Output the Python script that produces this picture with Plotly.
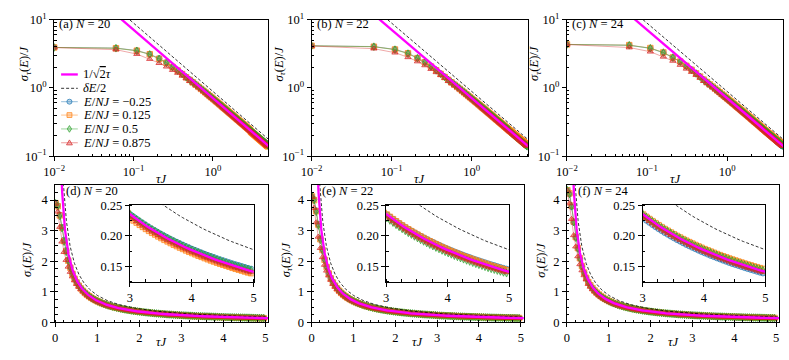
import numpy as np
import plotly.graph_objects as go

W, H = 789, 360
SERIF = "Liberation Serif"

# --- data ---
tau = [0.01, 0.06, 0.11, 0.16, 0.21, 0.26, 0.31, 0.36, 0.41, 0.46,
       0.51, 0.56, 0.61, 0.66, 0.71, 0.76, 0.81, 0.86, 0.91, 0.96,
       1.01, 1.06, 1.11, 1.16, 1.21, 1.26, 1.31, 1.36, 1.41, 1.46,
       1.51, 1.56, 1.61, 1.66, 1.71, 1.76, 1.81, 1.86, 1.91, 1.96,
       2.01, 2.06, 2.11, 2.16, 2.21, 2.26, 2.31, 2.36, 2.41, 2.46,
       2.51, 2.56, 2.61, 2.66, 2.71, 2.76, 2.81, 2.86, 2.91, 2.96,
       3.01, 3.06, 3.11, 3.16, 3.21, 3.26, 3.31, 3.36, 3.41, 3.46,
       3.51, 3.56, 3.61, 3.66, 3.71, 3.76, 3.81, 3.86, 3.91, 3.96,
       4.01, 4.06, 4.11, 4.16, 4.21, 4.26, 4.31, 4.36, 4.41, 4.46,
       4.51, 4.56, 4.61, 4.66, 4.71, 4.76, 4.81, 4.86, 4.91, 4.96]

# sigma_tau(E)/J for tau = 0.01 ... 0.46 (plateau and knee)
head_n20_m025 = [3.90, 3.82, 3.52, 3.12, 2.70, 2.36, 2.04, 1.80, 1.60, 1.44]
head_n20_p0125 = [3.90, 3.80, 3.50, 3.10, 2.66, 2.33, 2.02, 1.79, 1.59, 1.43]
head_n20_p05 = [3.90, 3.80, 3.48, 3.08, 2.64, 2.31, 2.01, 1.78, 1.59, 1.43]
head_n20_p0875 = [3.88, 3.62, 3.12, 2.64, 2.30, 2.04, 1.82, 1.65, 1.50, 1.37]

head_n22_m025 = [4.12, 4.02, 3.66, 3.22, 2.75, 2.40, 2.07, 1.82, 1.61, 1.45]
head_n22_p0125 = [4.12, 4.00, 3.64, 3.20, 2.72, 2.37, 2.05, 1.81, 1.60, 1.44]
head_n22_p05 = [4.12, 4.00, 3.62, 3.17, 2.70, 2.35, 2.04, 1.80, 1.60, 1.44]
head_n22_p0875 = [4.10, 3.74, 3.27, 2.80, 2.43, 2.13, 1.88, 1.69, 1.53, 1.39]

head_n24_m025 = [4.32, 4.20, 3.78, 3.27, 2.78, 2.42, 2.09, 1.83, 1.62, 1.45]
head_n24_p0125 = [4.32, 4.22, 3.82, 3.30, 2.79, 2.43, 2.10, 1.84, 1.63, 1.46]
head_n24_p05 = [4.32, 4.20, 3.80, 3.28, 2.77, 2.41, 2.08, 1.83, 1.62, 1.45]
head_n24_p0875 = [4.30, 3.89, 3.38, 2.85, 2.48, 2.16, 1.90, 1.70, 1.54, 1.40]

# tau = 0.51 ... 2.96 (upper, middle and lower edge of the band)
mid_hi = [1.319, 1.213, 1.122, 1.043, 0.975, 0.914, 0.861, 0.812, 0.770, 0.731,
          0.696, 0.665, 0.635, 0.608, 0.584, 0.561, 0.540, 0.520, 0.502, 0.486,
          0.470, 0.455, 0.440, 0.427, 0.415, 0.404, 0.393, 0.382, 0.372, 0.362,
          0.353, 0.344, 0.336, 0.328, 0.321, 0.314, 0.307, 0.301, 0.295, 0.289,
          0.283, 0.277, 0.272, 0.267, 0.262, 0.257, 0.252, 0.248, 0.244, 0.239]
mid_mid = [1.306, 1.201, 1.111, 1.033, 0.965, 0.905, 0.852, 0.804, 0.762, 0.724,
           0.689, 0.658, 0.629, 0.602, 0.578, 0.555, 0.535, 0.515, 0.497, 0.481,
           0.465, 0.450, 0.436, 0.423, 0.411, 0.400, 0.389, 0.378, 0.369, 0.359,
           0.350, 0.342, 0.334, 0.326, 0.319, 0.312, 0.305, 0.299, 0.293, 0.287,
           0.281, 0.276, 0.270, 0.265, 0.260, 0.256, 0.251, 0.247, 0.243, 0.238]
mid_lo = [1.254, 1.165, 1.083, 1.012, 0.946, 0.887, 0.835, 0.788, 0.747, 0.710,
          0.679, 0.648, 0.620, 0.593, 0.569, 0.547, 0.527, 0.507, 0.490, 0.474,
          0.458, 0.443, 0.429, 0.417, 0.405, 0.394, 0.383, 0.372, 0.363, 0.354,
          0.345, 0.337, 0.329, 0.321, 0.314, 0.307, 0.300, 0.295, 0.289, 0.283,
          0.277, 0.272, 0.266, 0.261, 0.256, 0.252, 0.247, 0.243, 0.239, 0.234]

# tau = 3.01 ... 4.96 (as seen in the insets)
end_hi = [0.2349, 0.2313, 0.2277, 0.2242, 0.2209, 0.2176, 0.2144, 0.2113, 0.2085, 0.2056,
          0.2028, 0.2000, 0.1974, 0.1948, 0.1923, 0.1899, 0.1875, 0.1852, 0.1829, 0.1807,
          0.1785, 0.1765, 0.1744, 0.1725, 0.1705, 0.1686, 0.1668, 0.1650, 0.1631, 0.1614,
          0.1598, 0.1581, 0.1565, 0.1548, 0.1533, 0.1519, 0.1503, 0.1489, 0.1474, 0.1461]
end_mid = [0.2349, 0.2312, 0.2275, 0.2240, 0.2205, 0.2172, 0.2139, 0.2108, 0.2078, 0.2049,
           0.2020, 0.1992, 0.1965, 0.1938, 0.1913, 0.1888, 0.1864, 0.1840, 0.1816, 0.1795,
           0.1772, 0.1751, 0.1730, 0.1710, 0.1690, 0.1670, 0.1652, 0.1633, 0.1614, 0.1597,
           0.1580, 0.1563, 0.1546, 0.1530, 0.1514, 0.1499, 0.1483, 0.1469, 0.1454, 0.1440]
end_lo = [0.2314, 0.2276, 0.2240, 0.2204, 0.2170, 0.2136, 0.2104, 0.2072, 0.2043, 0.2013,
          0.1985, 0.1956, 0.1930, 0.1903, 0.1877, 0.1853, 0.1828, 0.1805, 0.1781, 0.1759,
          0.1737, 0.1716, 0.1694, 0.1675, 0.1655, 0.1635, 0.1616, 0.1598, 0.1579, 0.1561,
          0.1544, 0.1528, 0.1511, 0.1494, 0.1478, 0.1464, 0.1448, 0.1433, 0.1418, 0.1405]
end_lo2 = [0.2291, 0.2253, 0.2218, 0.2182, 0.2148, 0.2115, 0.2083, 0.2051, 0.2023, 0.1993,
           0.1965, 0.1936, 0.1911, 0.1884, 0.1858, 0.1834, 0.1810, 0.1787, 0.1763, 0.1741,
           0.1720, 0.1699, 0.1677, 0.1658, 0.1638, 0.1619, 0.1600, 0.1582, 0.1563, 0.1545,
           0.1529, 0.1513, 0.1496, 0.1479, 0.1463, 0.1449, 0.1434, 0.1419, 0.1404, 0.1391]

sig_n20 = [head_n20_m025 + mid_hi + end_hi,
           head_n20_p0125 + mid_mid + end_lo2,
           head_n20_p05 + mid_mid + end_mid,
           head_n20_p0875 + mid_lo + end_lo]
sig_n22 = [head_n22_m025 + mid_hi + end_hi,
           head_n22_p0125 + mid_mid + end_mid,
           head_n22_p05 + mid_mid + end_lo2,
           head_n22_p0875 + mid_lo + end_lo]
sig_n24 = [head_n24_m025 + mid_mid + end_lo2,
           head_n24_p0125 + mid_hi + end_hi,
           head_n24_p05 + mid_mid + end_mid,
           head_n24_p0875 + mid_lo + end_lo]

N_values = [20, 22, 24]
E_labels = ["−0.25", "0.125", "0.5", "0.875"]
delta_e_coef = 0.886   # dE/2 = 0.886/tau

# reference curves
tau_ref = np.geomspace(0.01, 5.1, 400)
ref_sqrt2 = 1 / (np.sqrt(2) * tau_ref)
ref_de = delta_e_coef / tau_ref

COLORS = [(31, 119, 180), (255, 127, 14), (44, 160, 44), (214, 39, 40)]
SYMBOLS = ["circle", "square", "diamond-tall", "triangle-up"]


def rgba(c, a):
    return f"rgba({c[0]},{c[1]},{c[2]},{a})"


def px(x):
    return x / W


def py(y):
    return 1 - y / H


top_x = [(44, 262), (306, 526), (566, 786)]
bot_x = [(45, 262), (306, 522), (566, 782)]
ins_x = [(121, 247), (382, 507), (643, 768)]
top_y, bot_y, ins_y = (11, 154), (184, 328), (205.5, 285.5)

fig = go.Figure()
all_sig = [sig_n20, sig_n22, sig_n24]

for p in range(3):
    for sub in [p + 1, p + 4, p + 7]:
        xa = "x" if sub == 1 else f"x{sub}"
        ya = "y" if sub == 1 else f"y{sub}"
        for s, sig in enumerate(all_sig[p]):
            c = COLORS[s]
            fig.add_trace(go.Scatter(
                x=tau, y=sig, mode="lines+markers", xaxis=xa, yaxis=ya,
                line=dict(color=rgba(c, 0.5), width=0.8),
                marker=dict(symbol=SYMBOLS[s], size=5.5, color=rgba(c, 0.35),
                            line=dict(color=rgba(c, 0.9), width=0.8)),
                showlegend=False))
        fig.add_trace(go.Scatter(x=tau_ref, y=ref_de, mode="lines", xaxis=xa, yaxis=ya,
                                 line=dict(color="black", width=0.8, dash="3px,2px"),
                                 showlegend=False))
        fig.add_trace(go.Scatter(x=tau_ref, y=ref_sqrt2, mode="lines", xaxis=xa, yaxis=ya,
                                 line=dict(color="#ff00ff", width=2.3), showlegend=False))

tickfont = dict(family=SERIF, size=12.5, color="black")


def base_axis(dom, anchor, **kw):
    d = dict(domain=dom, anchor=anchor, showline=True, linecolor="black", linewidth=1,
             mirror=True, ticks="outside", ticklen=4, tickwidth=1, tickcolor="black",
             showgrid=False, zeroline=False, tickfont=tickfont)
    d.update(kw)
    return d


minor_log_x = [m * 10.0 ** e for e in (-2, -1, 0) for m in range(2, 10) if m * 10.0 ** e <= 5]
minor_log_y = [m * 10.0 ** e for e in (-1, 0) for m in range(2, 10)]

layout = {}
for p in range(3):
    # top, log-log
    n = p + 1
    xs = "" if n == 1 else str(n)
    layout["xaxis" + xs] = base_axis(
        [px(top_x[p][0]), px(top_x[p][1])], "y" + xs, type="log",
        range=[-2, np.log10(5)], tickvals=[0.01, 0.1, 1],
        ticktext=["10<sup>−2</sup>", "10<sup>−1</sup>", "10<sup>0</sup>"],
        minor=dict(ticks="inside", ticklen=2.5, tickcolor="black", tickvals=minor_log_x))
    layout["yaxis" + xs] = base_axis(
        [py(top_y[1]), py(top_y[0])], "x" + xs, type="log", range=[-1, 1],
        tickvals=[0.1, 1, 10],
        ticktext=["10<sup>−1</sup>", "10<sup>0</sup>", "10<sup>1</sup>"],
        minor=dict(ticks="inside", ticklen=2.5, tickcolor="black", tickvals=minor_log_y))
    # bottom, linear
    n = p + 4
    layout[f"xaxis{n}"] = base_axis(
        [px(bot_x[p][0]), px(bot_x[p][1])], f"y{n}", range=[0, 5.07],
        tick0=0, dtick=1, minor=dict(ticks="inside", ticklen=2.5, tickcolor="black", dtick=0.2))
    layout[f"yaxis{n}"] = base_axis(
        [py(bot_y[1]), py(bot_y[0])], f"x{n}", range=[0, 4.5],
        tick0=0, dtick=1, minor=dict(ticks="inside", ticklen=2.5, tickcolor="black", dtick=0.25))
    # inset
    n = p + 7
    layout[f"xaxis{n}"] = base_axis(
        [px(ins_x[p][0]), px(ins_x[p][1])], f"y{n}", range=[3, 5],
        tick0=3, dtick=1, minor=dict(ticks="inside", ticklen=2.5, tickcolor="black", dtick=0.25))
    layout[f"yaxis{n}"] = base_axis(
        [py(ins_y[1]), py(ins_y[0])], f"x{n}", range=[0.125, 0.25],
        tick0=0.15, dtick=0.05, tickformat=".2f",
        minor=dict(ticks="inside", ticklen=2.5, tickcolor="black", dtick=0.025))

fig.update_layout(**layout)

annotations = []
shapes = []
afont = dict(family=SERIF, size=12.5, color="black")

letters_top = ["(a)", "(b)", "(c)"]
letters_bot = ["(d)", "(e)", "(f)"]
ytitle = "<i>σ</i><sub><i>τ</i></sub>(<i>E</i>)/<i>J</i>"
ytitle_top_x = [15, 274, 534]
ytitle_bot_x = [18, 281, 541]
for p in range(3):
    annotations.append(dict(x=px(top_x[p][0] + 3), y=py(16), xref="paper", yref="paper",
                            text=f"{letters_top[p]} <i>N</i> = {N_values[p]}", showarrow=False,
                            xanchor="left", yanchor="middle", font=afont))
    annotations.append(dict(x=px(bot_x[p][0] + 9), y=py(190), xref="paper", yref="paper",
                            text=f"{letters_bot[p]} <i>N</i> = {N_values[p]}", showarrow=False,
                            xanchor="left", yanchor="middle", font=afont))
    annotations.append(dict(x=px(ytitle_top_x[p]), y=py(57), xref="paper", yref="paper",
                            text=ytitle, textangle=-90, showarrow=False, font=afont,
                            xanchor="center", yanchor="middle"))
    annotations.append(dict(x=px(ytitle_bot_x[p]), y=py(262), xref="paper", yref="paper",
                            text=ytitle, textangle=-90, showarrow=False, font=afont,
                            xanchor="center", yanchor="middle"))
    annotations.append(dict(x=px((top_x[p][0] + top_x[p][1]) / 2), y=py(178), xref="paper",
                            yref="paper", text="<i>τJ</i>", showarrow=False, font=afont,
                            xanchor="center", yanchor="middle"))
    annotations.append(dict(x=px((bot_x[p][0] + bot_x[p][1]) / 2), y=py(349), xref="paper",
                            yref="paper", text="<i>τJ</i>", showarrow=False, font=afont,
                            xanchor="center", yanchor="middle"))

# legend drawn by hand inside panel (a)
rows = [68.5, 83, 97, 111, 125.5, 140]
lx0, lx1, lcx, ltx = 51, 68, 59.5, 71
leg_text = ["1/√<span style='text-decoration:overline'>2</span><i>τ</i>", "<i>δE</i>/2"] + \
           [f"<i>E</i>/<i>NJ</i> = {e}" for e in E_labels]
for r, t in zip(rows, leg_text):
    annotations.append(dict(x=px(ltx), y=py(r), xref="paper", yref="paper", text=t,
                            showarrow=False, xanchor="left", yanchor="middle", font=afont))
shapes.append(dict(type="line", xref="paper", yref="paper", x0=px(lx0), x1=px(lx1),
                   y0=py(rows[0]), y1=py(rows[0]), line=dict(color="#ff00ff", width=2.3)))
shapes.append(dict(type="line", xref="paper", yref="paper", x0=px(lx0), x1=px(lx1),
                   y0=py(rows[1]), y1=py(rows[1]),
                   line=dict(color="black", width=0.8, dash="3px,2px")))
for s in range(4):
    c = COLORS[s]
    cy = rows[s + 2]
    shapes.append(dict(type="line", xref="paper", yref="paper", x0=px(lx0), x1=px(lx1),
                       y0=py(cy), y1=py(cy), line=dict(color=rgba(c, 0.6), width=0.8)))
    mk = dict(xref="paper", yref="paper", fillcolor=rgba(c, 0.3),
              line=dict(color=rgba(c, 0.9), width=0.8))
    if s == 0:
        shapes.append(dict(type="circle", x0=px(lcx - 2.6), x1=px(lcx + 2.6),
                           y0=py(cy + 2.6), y1=py(cy - 2.6), **mk))
    elif s == 1:
        shapes.append(dict(type="rect", x0=px(lcx - 2.5), x1=px(lcx + 2.5),
                           y0=py(cy + 2.5), y1=py(cy - 2.5), **mk))
    elif s == 2:
        path = (f"M{px(lcx)},{py(cy - 3.5)} L{px(lcx + 2.2)},{py(cy)} "
                f"L{px(lcx)},{py(cy + 3.5)} L{px(lcx - 2.2)},{py(cy)} Z")
        shapes.append(dict(type="path", path=path, **mk))
    else:
        path = (f"M{px(lcx)},{py(cy - 3)} L{px(lcx + 3)},{py(cy + 2.2)} "
                f"L{px(lcx - 3)},{py(cy + 2.2)} Z")
        shapes.append(dict(type="path", path=path, **mk))

fig.update_layout(
    width=W, height=H, margin=dict(l=0, r=0, t=0, b=0),
    paper_bgcolor="white", plot_bgcolor="white",
    font=dict(family=SERIF, size=12, color="black"),
    annotations=annotations, shapes=shapes, showlegend=False,
)

# the page's default 8px body margin would push the fixed-size figure off the window
fig.write_html("out.html", config={"displayModeBar": False},
               post_script="document.body.style.margin='0';")
